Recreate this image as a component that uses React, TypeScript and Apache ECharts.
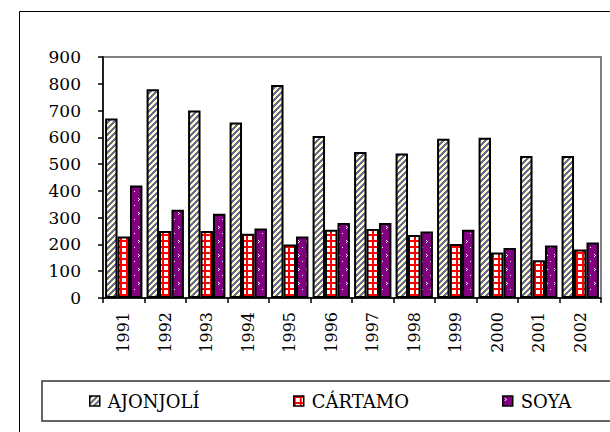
import React, { useEffect, useRef } from "react";
import * as echarts from "echarts";

const years = ["1991", "1992", "1993", "1994", "1995", "1996", "1997", "1998", "1999", "2000", "2001", "2002"];
const ajonjoli = [670, 780, 700, 655, 795, 605, 545, 540, 595, 598, 530, 530];
const cartamo = [230, 250, 250, 240, 200, 255, 258, 235, 202, 170, 141, 181];
const soya = [420, 330, 315, 260, 230, 280, 280, 248, 255, 187, 196, 207];
const seriesNames = ["AJONJOLÍ", "CÁRTAMO", "SOYA"];

const FONT = "DejaVu Serif";

function makePattern(w: number, h: number, draw: (ctx: CanvasRenderingContext2D) => void) {
  const c = document.createElement("canvas");
  c.width = w;
  c.height = h;
  const ctx = c.getContext("2d") as CanvasRenderingContext2D;
  draw(ctx);
  return { image: c.toDataURL(), repeat: "repeat", imageWidth: w, imageHeight: h } as any;
}

export default function App() {
  const ref = useRef<HTMLDivElement>(null);
  useEffect(() => {
    if (!ref.current) return;
    const chart = echarts.init(ref.current, undefined, { renderer: "svg" });

    const ajPat = makePattern(6, 6, (ctx) => {
      for (let x = 0; x < 6; x++)
        for (let y = 0; y < 6; y++) {
          ctx.fillStyle = (x + y) % 6 < 3 ? "#6a6a9a" : "#ffffcc";
          ctx.fillRect(x, y, 1, 1);
        }
    });
    const carPat = makePattern(6, 6, (ctx) => {
      ctx.fillStyle = "#ffffff";
      ctx.fillRect(0, 0, 6, 6);
      ctx.fillStyle = "#ff0000";
      ctx.fillRect(0, 0, 6, 2);
      ctx.fillRect(0, 0, 2, 6);
    });
    const soyPat = makePattern(8, 14, (ctx) => {
      ctx.fillStyle = "#800080";
      ctx.fillRect(0, 0, 8, 14);
      ctx.fillStyle = "#ffffff";
      ctx.fillRect(2, 2, 1, 1);
      ctx.fillRect(3, 3, 1, 1);
      ctx.fillRect(2, 4, 1, 1);
      ctx.fillRect(6, 9, 1, 1);
    });
    const pats = [ajPat, carPat, soyPat];
    const datas = [ajonjoli, cartamo, soya];
    const legendLefts = [84, 288, 497];

    chart.setOption({
      animation: false,
      backgroundColor: "#ffffff",
      textStyle: { fontFamily: FONT },
      grid: {
        left: 103,
        right: 9,
        top: 57,
        bottom: 134,
        show: true,
        borderColor: "#808080",
        borderWidth: 2,
      },
      xAxis: {
        type: "category",
        data: years,
        axisLine: { lineStyle: { color: "#000", width: 1.5 } },
        axisTick: { show: true, length: 5, lineStyle: { color: "#000", width: 1.5 } },
        axisLabel: { rotate: 90, margin: 14, fontSize: 16, color: "#000", fontFamily: FONT },
        splitLine: { show: false },
      },
      yAxis: {
        type: "value",
        min: 0,
        max: 900,
        interval: 100,
        axisLine: { show: true, lineStyle: { color: "#000", width: 1.5 } },
        axisTick: { show: true, length: 5, lineStyle: { color: "#000", width: 1.5 } },
        axisLabel: { margin: 22, fontSize: 17, color: "#000", fontFamily: FONT },
        splitLine: { show: false },
      },
      legend: seriesNames.map((n, i) => ({
        data: [n],
        left: legendLefts[i],
        top: 387,
        itemWidth: 10,
        itemHeight: 10,
        icon: "rect",
        itemStyle: { borderColor: "#000", borderWidth: 1.5 },
        textStyle: { fontSize: 18, color: "#000", fontFamily: FONT, padding: [0, 0, 0, 3] },
        selectedMode: false,
      })),
      graphic: [
        {
          type: "rect",
          shape: { x: 604, y: 0, width: 6, height: 432 },
          style: { fill: "#ffffff" },
          silent: true,
          z: 100,
        },
        {
          type: "polyline",
          shape: { points: [[19.5, 432], [19.5, 11.5], [610, 11.5]] },
          style: { fill: "none", stroke: "#000", lineWidth: 1 },
          silent: true,
          z: 101,
        },
        {
          type: "polyline",
          shape: { points: [[610, 381], [42, 381], [42, 421], [610, 421]] },
          style: { fill: "none", stroke: "#333", lineWidth: 1.5 },
          silent: true,
          z: 101,
        },
      ],
      series: seriesNames.map((n, i) => ({
        name: n,
        type: "bar",
        data: datas[i],
        barGap: "0%",
        barCategoryGap: "10%",
        itemStyle: { color: pats[i], borderColor: "#000", borderWidth: 2 },
      })),
    });
    return () => chart.dispose();
  }, []);
  return (
    <div
      ref={ref}
      style={{ position: "fixed", left: 0, top: 0, width: 610, height: 432 }}
    />
  );
}
